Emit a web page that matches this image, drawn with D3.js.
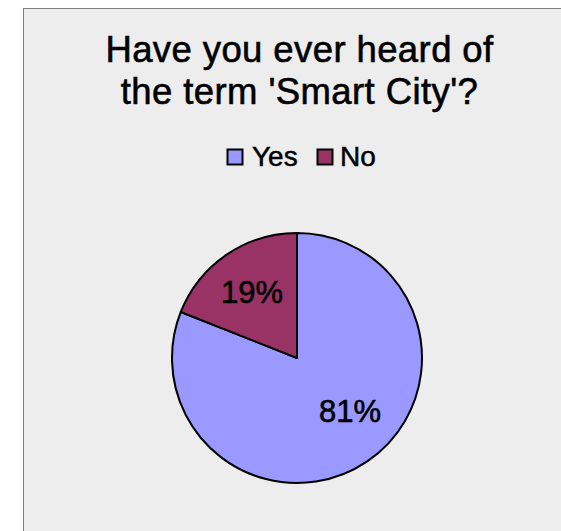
<!DOCTYPE html>
<html><head><meta charset="utf-8">
<script src="https://cdn.jsdelivr.net/npm/d3@7"></script>
<style>html,body{margin:0;padding:0;background:#fff;}svg{display:block;}</style>
</head><body>
<svg id="chart" width="561" height="531"></svg>
<script>
const titleLines = ["Have you ever heard of", "the term 'Smart City'?"];
const categories = ["Yes", "No"];
const values = [81, 19];
const labels = ["81%", "19%"];
const colors = ["#9999ff", "#993366"];

const svg = d3.select("#chart");
const font = "'Liberation Sans', Arial, sans-serif";

svg.append("rect").attr("x", 23.5).attr("y", 8.5).attr("width", 545).attr("height", 530)
  .attr("fill", "#ededed").attr("stroke", "#808080").attr("stroke-width", 1);

svg.append("g").selectAll("text").data(titleLines).join("text")
  .attr("x", 299.5).attr("y", (d, i) => 62 + i * 42)
  .attr("text-anchor", "middle").attr("font-family", font).attr("font-size", 36.5)
  .attr("letter-spacing", 0.4)
  .attr("fill", "#000").attr("stroke", "#000").attr("stroke-width", 0.6).text(d => d);

// legend
const legendItems = [{x: 227, tx: 252, i: 0}, {x: 317, tx: 340, i: 1}];
const lg = svg.append("g");
legendItems.forEach(it => {
  lg.append("rect").attr("x", it.x + 0.5).attr("y", 149.5).attr("width", 15).attr("height", 15)
    .attr("fill", colors[it.i]).attr("stroke", "#000").attr("stroke-width", 2);
  lg.append("text").attr("x", it.tx).attr("y", 166)
    .attr("font-family", font).attr("font-size", 28).attr("fill", "#000")
    .attr("stroke", "#000").attr("stroke-width", 0.5).text(categories[it.i]);
});

const cx = 297, cy = 358, r = 125;
const pie = d3.pie().sort(null).value(d => d)(values);
const arc = d3.arc().innerRadius(0).outerRadius(r);
const g = svg.append("g").attr("transform", `translate(${cx},${cy})`);
g.selectAll("path").data(pie).join("path")
  .attr("d", arc).attr("fill", (d, i) => colors[i])
  .attr("stroke", "#000").attr("stroke-width", 2).attr("stroke-linejoin", "round");

const labelPos = [[53, 64], [-45, -55]];
g.selectAll("text.lbl").data(pie).join("text").attr("class", "lbl")
  .attr("x", (d, i) => labelPos[i][0]).attr("y", (d, i) => labelPos[i][1])
  .attr("text-anchor", "middle").attr("font-family", font).attr("font-size", 31)
  .attr("fill", "#000").attr("stroke", "#000").attr("stroke-width", 0.6).text((d, i) => labels[i]);
</script>
</body></html>
